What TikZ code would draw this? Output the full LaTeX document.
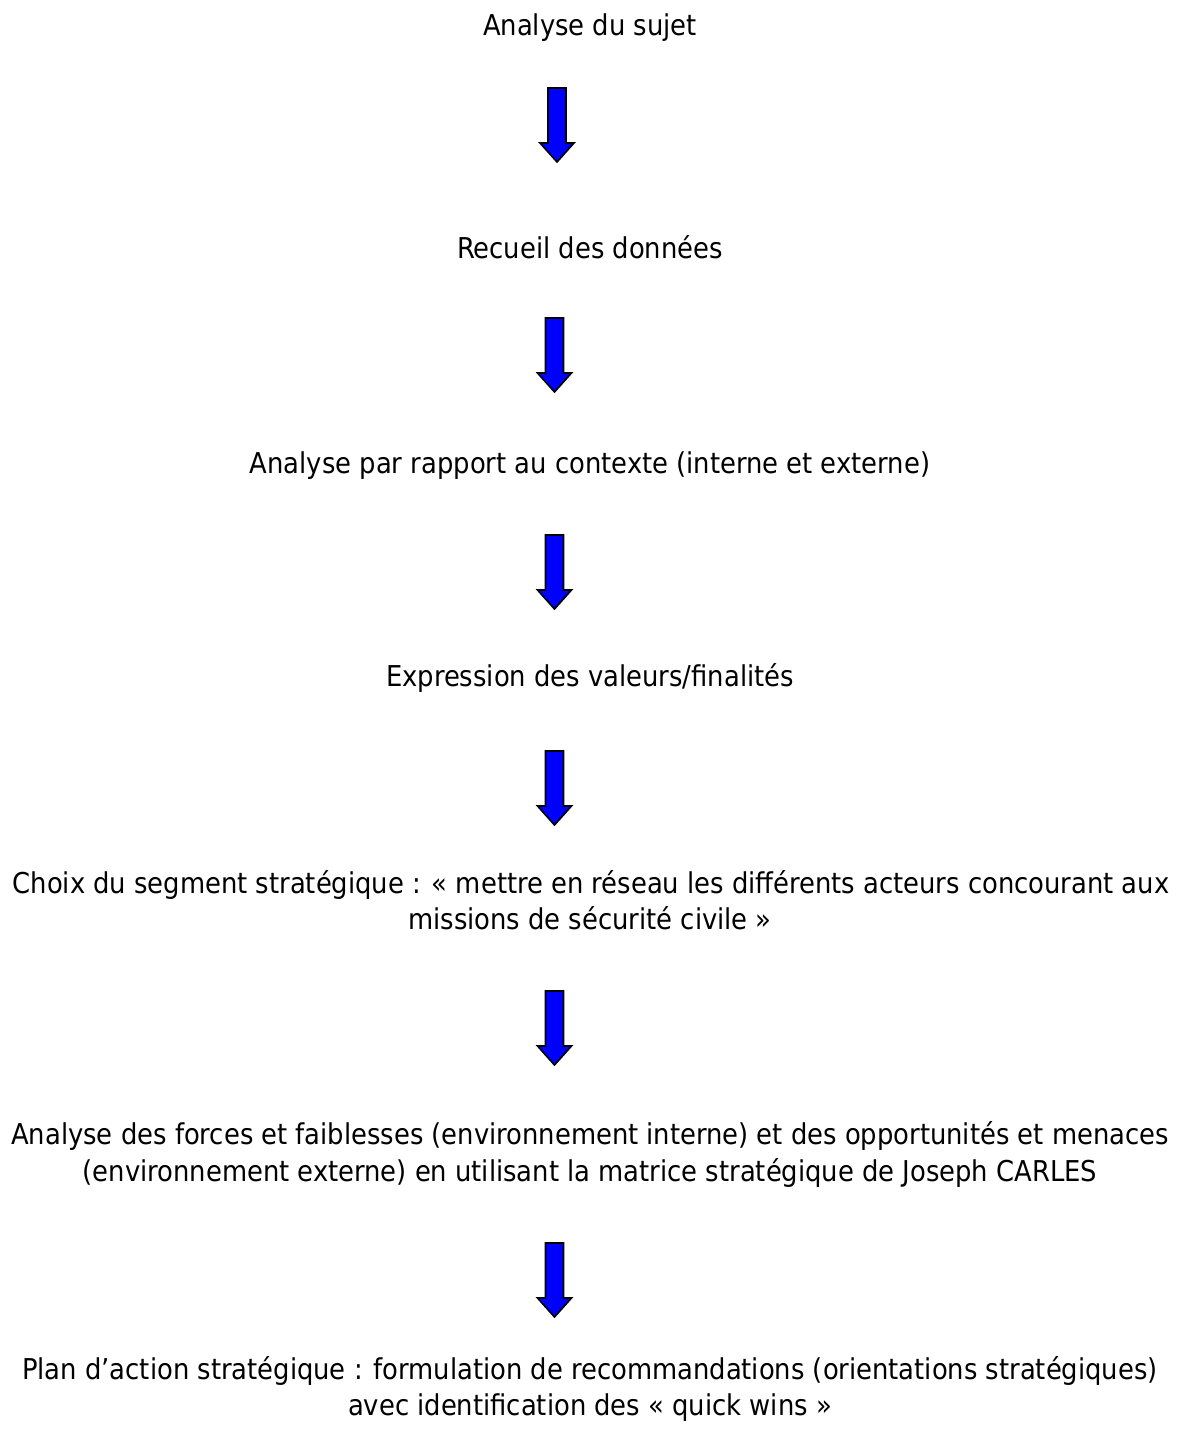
\documentclass[tikz,border=0pt]{standalone}
\usepackage{fontspec}
\IfFontExistsTF{DejaVu Sans Condensed}
  {\setmainfont{DejaVu Sans Condensed}}
  {\setmainfont{DejaVu Sans}[FakeStretch=0.9]}
\definecolor{arrowblue}{RGB}{0,0,255}
\tikzset{
  stepline/.style={anchor=base, inner sep=0pt,
    font=\fontsize{28.7}{36}\selectfont},
  blockarrow/.style={draw=black, fill=arrowblue, line width=1.6pt, line join=miter},
  downarrow/.pic={
    \draw[blockarrow] (-9,0) -- (9,0) -- (9,55) -- (17,55) -- (0,74)
      -- (-17,55) -- (-9,55) -- cycle;
  }
}
\begin{document}
\begin{tikzpicture}[x=1pt, y=-1pt]
\useasboundingbox (0,0) rectangle (1180,1435);

% steps of the method
\node[stepline] (t1)  at (590,35)   {Analyse du sujet};
\node[stepline] (t2)  at (590,258)  {Recueil des données};
\node[stepline] (t3)  at (590,473)  {Analyse par rapport au contexte (interne et externe)};
\node[stepline] (t4)  at (590,686)  {Expression des valeurs/finalités};
\node[stepline] (t5a) at (591,893)  {Choix du segment stratégique : « mettre en réseau les différents acteurs concourant aux};
\node[stepline] (t5b) at (590,929)  {missions de sécurité civile »};
\node[stepline] (t6a) at (590,1144) {Analyse des forces et faiblesses (environnement interne) et des opportunités et menaces};
\node[stepline] (t6b) at (590,1181) {(environnement externe) en utilisant la matrice stratégique de Joseph CARLES};
\node[stepline] (t7a) at (590,1379) {Plan d’action stratégique : formulation de recommandations (orientations stratégiques)};
\node[stepline] (t7b) at (590,1415) {avec identification des « quick wins »};

% block arrows between the steps
\pic at (557,88)    {downarrow};
\pic at (554.5,318) {downarrow};
\pic at (554.5,535) {downarrow};
\pic at (554.5,751) {downarrow};
\pic at (554.5,991) {downarrow};
\pic at (554.5,1243){downarrow};
\end{tikzpicture}
\end{document}
